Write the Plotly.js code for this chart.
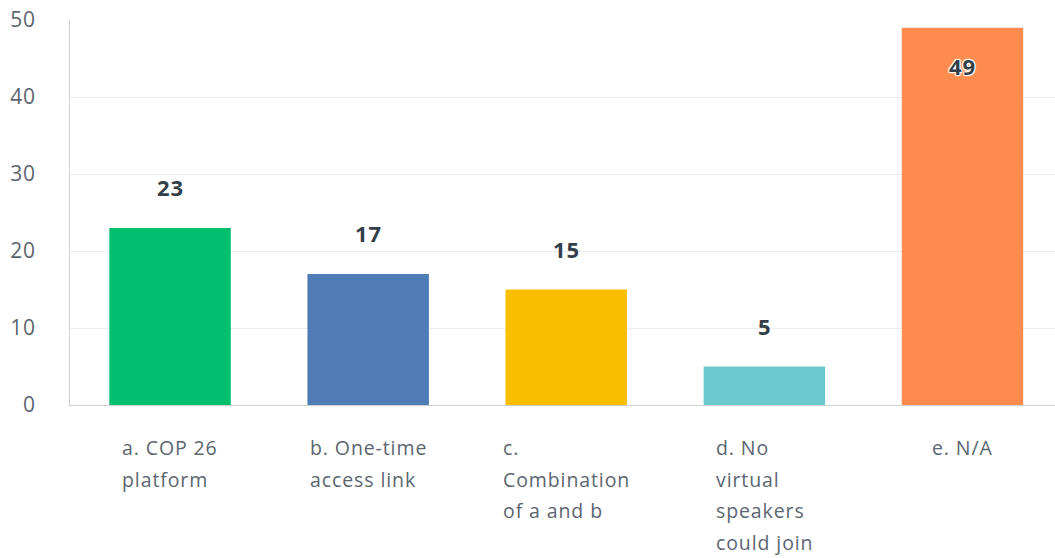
<!DOCTYPE html>
<html>
<head>
<meta charset="utf-8">
<script src="https://cdn.plot.ly/plotly-3.0.1.min.js"></script>
<style>
  html, body { margin: 0; padding: 0; background: #fff; }
  #chart { width: 1055px; height: 558px; }
  .ytick text { letter-spacing: 0.8px; }
  .annotation-text { letter-spacing: 0.9px; }
</style>
</head>
<body>
<div id="chart"></div>
<script>
// ---- Data ----
const categories = ["a", "b", "c", "d", "e"];
const categoryLabels = [
  "a. COP 26<br>platform",
  "b. One-time<br>access link",
  "c.<br>Combination<br>of a and b",
  "d. No<br>virtual<br>speakers<br>could join",
  "e. N/A"
];
const responses = [23, 17, 15, 5, 49];
const barColors = ["#00bf6f", "#507cb6", "#f9be00", "#6bc8cd", "#ff8b4f"];
const yTickValues = [0, 10, 20, 30, 40, 50];

// ---- Styles ----
const FONT = "'Open Sans', 'Liberation Sans', sans-serif";
const yMax = 50;

const trace = {
  type: "bar",
  x: categories,
  y: responses,
  marker: { color: barColors, line: { width: 0 } },
  hoverinfo: "none"
};

const annotations = [];
responses.forEach((v, i) => {
  const inside = v > yMax - 5;
  annotations.push({
    x: categories[i], xref: "x",
    y: v, yref: "y",
    text: String(v),
    showarrow: false,
    yanchor: "middle",
    yshift: inside ? -38 : 41,
    font: {
      family: FONT, size: 22, color: "#333e48", weight: 700,
      shadow: inside ? "1px 1px 1px #fff, -1px -1px 1px #fff, 1px -1px 1px #fff, -1px 1px 1px #fff, 0 0 2px #fff" : "none"
    }
  });
});
categoryLabels.forEach((lab, i) => {
  annotations.push({
    x: categories[i], xref: "x",
    y: 0, yref: "paper",
    yanchor: "top",
    yshift: -27,
    text: lab,
    align: "left",
    showarrow: false,
    font: { family: FONT, size: 19.5, color: "#5b6670" }
  });
});

const layout = {
  width: 1055, height: 558,
  margin: { l: 70, r: 0, t: 20, b: 153, pad: 0 },
  paper_bgcolor: "#fff", plot_bgcolor: "#fff",
  showlegend: false,
  bargap: 0.387,
  font: { family: FONT },
  xaxis: {
    type: "category",
    range: [-0.505, 4.467],
    showgrid: false, zeroline: false,
    showticklabels: false, ticks: "",
    showline: true, linecolor: "#d0d0d0", linewidth: 1,
    fixedrange: true
  },
  yaxis: {
    range: [0, yMax],
    tickvals: yTickValues,
    ticktext: yTickValues.map(String),
    showgrid: true, gridcolor: "#ececec", gridwidth: 1,
    zeroline: false,
    showline: true, linecolor: "#d0d0d0", linewidth: 1,
    ticks: "", ticklabelstandoff: 29,
    tickfont: { family: FONT, size: 21, color: "#5b6670" },
    fixedrange: true
  },
  annotations: annotations
};

Plotly.newPlot("chart", [trace], layout, { displayModeBar: false, staticPlot: true }).then(() => {
  // widen line spacing of the multi-line category labels (Plotly uses 1.3em)
  document.querySelectorAll(".annotation-text tspan.line").forEach(t => {
    const dy = parseFloat(t.getAttribute("dy"));
    if (dy > 0) t.setAttribute("dy", (dy / 1.3 * 1.62).toFixed(3) + "em");
  });
});
</script>
</body>
</html>
